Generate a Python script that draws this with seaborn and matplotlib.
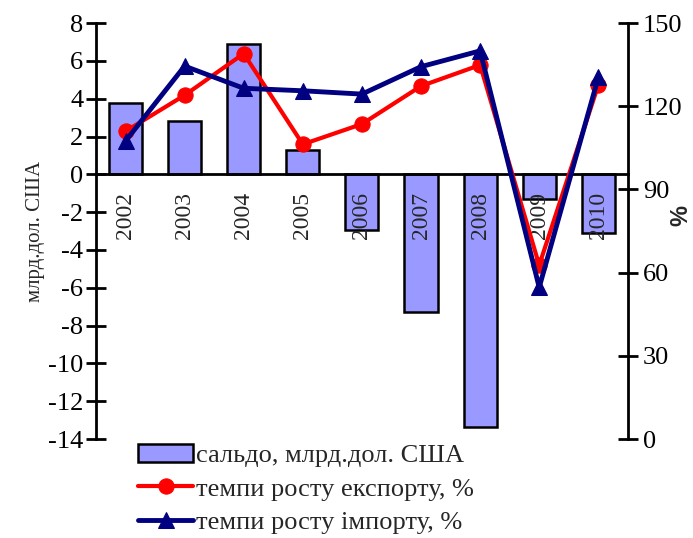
import numpy as np
import pandas as pd
import matplotlib
matplotlib.use('Agg')
import matplotlib.pyplot as plt
import seaborn as sns

# data
years = ['2002', '2003', '2004', '2005', '2006', '2007', '2008', '2009', '2010']
saldo = [3.8, 2.8, 6.9, 1.3, -2.95, -7.3, -13.35, -1.3, -3.1]
export_growth = [111.0, 124.0, 139.0, 106.3, 113.6, 127.3, 134.9, 62.7, 127.7]
import_growth = [107.5, 134.5, 126.5, 125.6, 124.4, 134.3, 140.0, 54.7, 130.4]

sns.set_style('white')
plt.rcParams['font.family'] = ['Liberation Serif', 'DejaVu Serif']

df = pd.DataFrame({'year': years, 'saldo': saldo,
                   'export': export_growth, 'import': import_growth})
df['pos'] = np.arange(len(years))

fig = plt.figure(figsize=(6.93, 5.38), dpi=100)
ax = fig.add_axes([0.1385, 0.184, 0.7675, 0.773])

sns.barplot(data=df, x='year', y='saldo', color='#9999FF', saturation=1,
            width=0.56, edgecolor='black', linewidth=1.8, ax=ax,
            label='сальдо, млрд.дол. США')
ax.set_ylim(-14, 8)
ax.set_xlim(-0.5, len(years) - 0.5)
ax.set_yticks(np.arange(-14, 9, 2))
ax.set_yticklabels([str(v) for v in range(-14, 9, 2)], fontsize=19)
ax.set_ylabel('млрд.дол. США', fontsize=15, labelpad=2)
ax.set_xlabel('')
if ax.legend_ is not None:
    ax.legend_.remove()

# category axis sits on zero line, ticks between categories
ax.spines['bottom'].set_position(('data', 0))
ax.spines['top'].set_visible(False)
ax.spines['right'].set_visible(False)
for s in ['left', 'bottom']:
    ax.spines[s].set_linewidth(2)
    ax.spines[s].set_color('black')
ax.set_xticks(np.arange(len(years) + 1) - 0.5)
ax.set_xticklabels([])
ax.tick_params(axis='x', direction='inout', length=14, width=2, colors='black')
ax.tick_params(axis='y', direction='inout', length=14, width=2, colors='black', pad=2)
for i, yr in enumerate(years):
    ax.text(i, -0.95, yr, rotation=90, ha='center', va='top', fontsize=17, zorder=5)

ax2 = ax.twinx()
sns.lineplot(data=df, x='pos', y='export', color='red', linewidth=3,
             marker='o', markersize=11, markeredgecolor='red', ax=ax2,
             label='темпи росту експорту, %')
sns.lineplot(data=df, x='pos', y='import', color='#000080', linewidth=3.5,
             marker='^', markersize=12, markeredgecolor='#000080', ax=ax2,
             label='темпи росту імпорту, %')
ax2.set_ylim(0, 150)
ax2.set_xlim(-0.5, len(years) - 0.5)
ax2.set_yticks(np.arange(0, 151, 30))
ax2.set_yticklabels([str(v) for v in range(0, 151, 30)], fontsize=19)
ax2.set_ylabel('')
ax2.set_xlabel('')
for s in ['left', 'top', 'bottom']:
    ax2.spines[s].set_visible(False)
ax2.spines['right'].set_linewidth(2)
ax2.spines['right'].set_color('black')
ax2.tick_params(axis='y', direction='inout', length=14, width=2, colors='black', pad=4)
ax2.legend_.remove()
fig.text(0.982, 0.60, '%', rotation=90, ha='center', va='center', fontsize=17,
         fontweight='bold', family=['Liberation Sans', 'DejaVu Sans'])

h1, l1 = ax.get_legend_handles_labels()
h2, l2 = ax2.get_legend_handles_labels()
fig.legend(h1 + h2, l1 + l2, loc='upper left', bbox_to_anchor=(0.18, 0.2),
           frameon=False, fontsize=19, handlelength=2.1, handletextpad=0.1,
           labelspacing=0.38, borderpad=0)

fig.savefig('out.png', dpi=100)
